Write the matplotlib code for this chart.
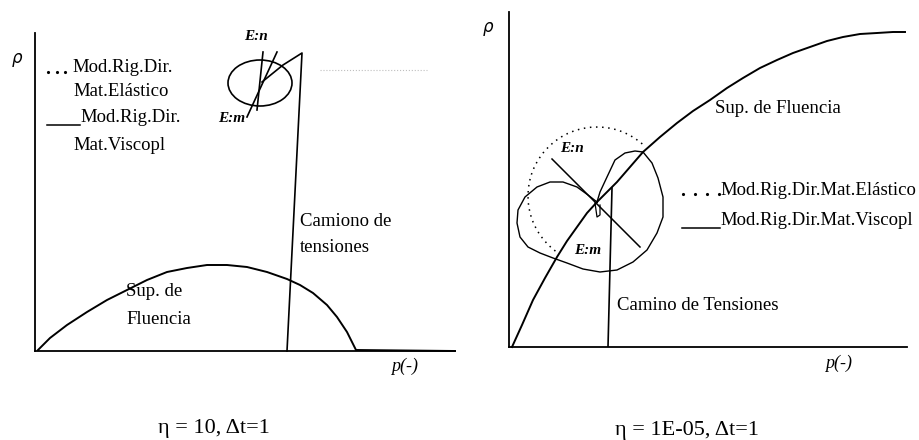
import matplotlib.pyplot as plt
from matplotlib.patches import Ellipse, Arc

plt.rcParams['font.family'] = ['Liberation Serif', 'DejaVu Serif']

# ---------------- left panel: eta = 10 ----------------
# yield surface (p, q)
yield_left_p = [3, 15, 32, 52, 72, 92, 112, 132, 152, 172, 192, 212, 232, 252,
                265, 278, 292, 302, 312, 321, 420]
yield_left_q = [1, 13, 26, 39, 51, 61, 71, 79, 83, 86, 86, 84, 79, 72,
                66, 58, 46, 34, 19, 1, 0]
# stress path
path_left_p = [252, 267, 248, 227]
path_left_q = [0, 298, 286, 269]
# directional stiffness (ellipse) and E:n / E:m directions
ell_left_center = (225, 268)
ell_left_size = (64, 46)
en_left_p = [242, 212]
en_left_q = [299, 234]
em_left_p = [228, 222]
em_left_q = [299, 241]

# ---------------- right panel: eta = 1E-05 ----------------
yield_right_p = [3, 13, 24, 36, 48, 58, 68, 78, 88, 98, 108, 121, 134, 151, 168,
                 184, 201, 218, 234, 251, 268, 284, 301, 318, 334, 351, 368, 384, 396]
yield_right_q = [0, 22, 47, 69, 90, 106, 120, 134, 145, 155, 165, 180, 195, 210, 224,
                 236, 247, 259, 269, 279, 287, 294, 300, 306, 310, 313, 314, 315, 315]
path_right_p = [99, 103]
path_right_q = [0, 159]
# viscoplastic directional stiffness (solid, two lobes)
visco_p = [88, 91, 98, 106, 116, 126, 134, 143, 149, 154, 154, 148, 138, 124, 108,
           91, 74, 58, 44, 31, 19, 11, 8, 9, 16, 28, 41, 54, 68, 79, 88]
visco_q = [145, 155, 170, 187, 194, 196, 195, 184, 169, 150, 130, 114, 97, 85, 77,
           75, 78, 84, 89, 94, 100, 110, 124, 137, 150, 160, 165, 165, 160, 152, 145]
small_loop_p = [86, 88, 91, 91]
small_loop_q = [144, 130, 132, 142]
# elastic directional stiffness (dotted circle arc)
elas_center = (88, 151)
elas_radius = 69
elas_theta = (49, 234)
en_right_p = [43, 131]
en_right_q = [188, 100]

fig = plt.figure(figsize=(9.2, 4.4), dpi=100)
W, H = 920, 440

def make_axes(x0, y0, w, h):
    ax = fig.add_axes([x0 / W, (H - y0) / H, w / W, h / H])
    ax.set_xlim(0, w)
    ax.set_ylim(0, h)
    ax.spines['top'].set_visible(False)
    ax.spines['right'].set_visible(False)
    for s in ['left', 'bottom']:
        ax.spines[s].set_linewidth(1.3)
    ax.set_xticks([])
    ax.set_yticks([])
    ax.patch.set_alpha(0)
    return ax

lw = 1.4
ax1 = make_axes(35, 351, 420, 318)
ax1.plot(yield_left_p, yield_left_q, 'k-', lw=lw, clip_on=False)
ax1.plot(path_left_p, path_left_q, 'k-', lw=1.2, clip_on=False)
ax1.add_patch(Ellipse(ell_left_center, *ell_left_size, fill=False, lw=1.2, ec='k'))
ax1.plot(en_left_p, en_left_q, 'k-', lw=1.2)
ax1.plot(em_left_p, em_left_q, 'k-', lw=1.2)
ax1.plot([285, 392], [281, 281], ls=':', color='0.75', lw=0.8)

fs = 13.5
ax1.text(-18, 293, 'ρ', fontsize=12, style='italic', va='center', ha='center', family='DejaVu Sans')
ax1.plot([13, 22, 30], [279, 279, 279], 'k.', ms=2.5)
ax1.text(37, 283, 'Mod.Rig.Dir.', fontsize=fs, va='center')
ax1.text(38, 259, 'Mat.Elástico', fontsize=fs, va='center')
ax1.plot([12, 45], [226, 226], 'k-', lw=1.1)
ax1.text(45, 233, 'Mod.Rig.Dir.', fontsize=fs, va='center')
ax1.text(38, 206, 'Mat.Viscopl', fontsize=fs, va='center')
ax1.text(265, 129, 'Camiono de', fontsize=fs, va='center')
ax1.text(265, 103, 'tensiones', fontsize=fs, va='center')
ax1.text(91, 59, 'Sup. de', fontsize=fs, va='center')
ax1.text(91, 32, 'Fluencia', fontsize=fs, va='center')
ax1.text(221, 314, 'E:n', fontsize=11, weight='bold', style='italic', ha='center', va='center')
ax1.text(197, 233, 'E:m', fontsize=11, weight='bold', style='italic', ha='center', va='center')
ax1.text(370, -15, 'p(-)', fontsize=13, style='italic', ha='center', va='center', clip_on=False)
ax1.text(179, -77, 'η = 10, Δt=1', fontsize=16, ha='center', va='center', clip_on=False)

ax2 = make_axes(509, 347, 398, 335)
ax2.plot(yield_right_p, yield_right_q, 'k-', lw=lw, clip_on=False)
ax2.plot(path_right_p, path_right_q, 'k-', lw=1.2)
ax2.plot(visco_p, visco_q, 'k-', lw=1.0)
ax2.plot(small_loop_p, small_loop_q, 'k-', lw=0.9)
ax2.add_patch(Arc(elas_center, 2 * elas_radius, 2 * elas_radius, theta1=elas_theta[0],
                  theta2=elas_theta[1], ls=(0, (1, 3)), lw=1.1, ec='k'))
ax2.plot(en_right_p, en_right_q, 'k-', lw=1.1)

ax2.text(-21, 320, 'ρ', fontsize=12, style='italic', va='center', ha='center', family='DejaVu Sans')
ax2.text(206, 239, 'Sup. de Fluencia', fontsize=fs, va='center')
ax2.text(63, 199, 'E:n', fontsize=11, weight='bold', style='italic', ha='center', va='center')
ax2.text(79, 97, 'E:m', fontsize=11, weight='bold', style='italic', ha='center', va='center')
ax2.plot([174, 186, 198, 210], [153, 153, 153, 153], 'k.', ms=2.5)
ax2.text(211, 157, 'Mod.Rig.Dir.Mat.Elástico', fontsize=fs, va='center', clip_on=False)
ax2.plot([173, 211], [119, 119], 'k-', lw=1.1)
ax2.text(211, 127, 'Mod.Rig.Dir.Mat.Viscopl', fontsize=fs, va='center', clip_on=False)
ax2.text(108, 42, 'Camino de Tensiones', fontsize=fs, va='center')
ax2.text(330, -16, 'p(-)', fontsize=13, style='italic', ha='center', va='center', clip_on=False)
ax2.text(178, -83, 'η = 1E-05, Δt=1', fontsize=16, ha='center', va='center', clip_on=False)

fig.savefig('out.png', dpi=100)
